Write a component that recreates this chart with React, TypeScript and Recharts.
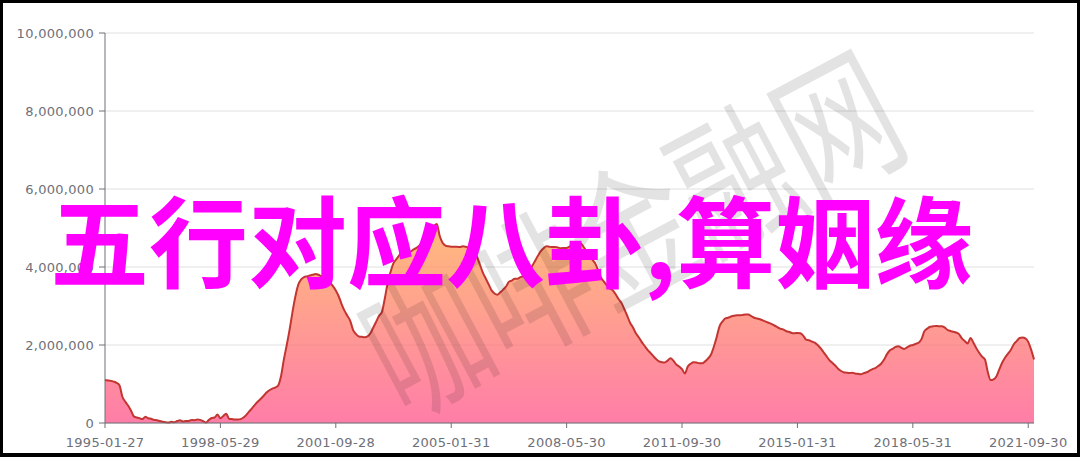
import React from "react"
import { AreaChart, Area, XAxis, YAxis, CartesianGrid } from "recharts"

// monthly values in millions, 1995-01 .. 2021-11
const VALUES: number[] = [
  1.10, 1.09, 1.08, 1.06, 1.03, 0.97, 0.68, 0.55, 0.45, 0.32, 0.17, 0.14,
  0.12, 0.10, 0.16, 0.12, 0.11, 0.08, 0.07, 0.05, 0.03, 0.02, 0.01, 0.03,
  0.02, 0.05, 0.07, 0.04, 0.05, 0.05, 0.08, 0.07, 0.09, 0.08, 0.05, 0.01,
  0.08, 0.13, 0.14, 0.22, 0.12, 0.18, 0.24, 0.11, 0.10, 0.09, 0.09, 0.10,
  0.14, 0.21, 0.30, 0.38, 0.47, 0.55, 0.62, 0.70, 0.78, 0.84, 0.88, 0.91,
  0.96, 1.20, 1.63, 2.00, 2.40, 2.85, 3.25, 3.55, 3.68, 3.74, 3.76, 3.78,
  3.80, 3.82, 3.80, 3.76, 3.72, 3.68, 3.60, 3.51, 3.40, 3.25, 3.05, 2.88,
  2.75, 2.62, 2.38, 2.28, 2.22, 2.21, 2.20, 2.22, 2.30, 2.45, 2.60, 2.75,
  2.85, 3.20, 3.60, 3.88, 4.10, 4.20, 4.30, 4.40, 4.45, 4.38, 4.40, 4.45,
  4.49, 4.55, 4.65, 4.75, 4.88, 4.96, 5.05, 5.10, 4.80, 4.62, 4.55, 4.53,
  4.52, 4.52, 4.52, 4.51, 4.53, 4.52, 4.50, 4.49, 4.40, 4.25, 4.05, 3.85,
  3.70, 3.55, 3.40, 3.32, 3.29, 3.35, 3.42, 3.50, 3.62, 3.65, 3.70, 3.70,
  3.74, 3.76, 3.82, 3.92, 4.02, 4.15, 4.28, 4.40, 4.48, 4.53, 4.52, 4.51,
  4.51, 4.50, 4.48, 4.49, 4.49, 4.52, 4.58, 4.60, 4.62, 4.60, 4.50, 4.40,
  4.30, 4.18, 4.08, 3.90, 3.72, 3.62, 3.52, 3.45, 3.40, 3.30, 3.18, 3.08,
  2.92, 2.75, 2.57, 2.45, 2.30, 2.20, 2.08, 1.98, 1.88, 1.80, 1.72, 1.64,
  1.58, 1.56, 1.55, 1.60, 1.66, 1.60, 1.50, 1.45, 1.38, 1.27, 1.45, 1.52,
  1.56, 1.55, 1.53, 1.53, 1.58, 1.65, 1.75, 1.95, 2.20, 2.48, 2.60, 2.68,
  2.70, 2.73, 2.75, 2.76, 2.76, 2.77, 2.78, 2.78, 2.74, 2.70, 2.68, 2.66,
  2.63, 2.60, 2.57, 2.54, 2.50, 2.46, 2.42, 2.40, 2.36, 2.34, 2.31, 2.30,
  2.31, 2.30, 2.24, 2.14, 2.12, 2.09, 2.06, 2.00, 1.92, 1.82, 1.72, 1.62,
  1.55, 1.48, 1.40, 1.34, 1.30, 1.29, 1.28, 1.29, 1.27, 1.26, 1.25, 1.28,
  1.30, 1.34, 1.38, 1.41, 1.46, 1.52, 1.62, 1.76, 1.86, 1.90, 1.95, 1.97,
  1.93, 1.90, 1.94, 1.98, 2.00, 2.03, 2.06, 2.15, 2.35, 2.42, 2.47, 2.48,
  2.49, 2.48, 2.48, 2.45, 2.39, 2.36, 2.34, 2.32, 2.28, 2.17, 2.10, 2.04,
  2.18, 2.06, 1.92, 1.80, 1.70, 1.63, 1.30, 1.10, 1.12, 1.20, 1.38, 1.55,
  1.68, 1.78, 1.88, 2.02, 2.10, 2.18, 2.19, 2.17, 2.08, 1.88, 1.63,
]

const TICK_LABELS = [
  "1995-01-27", "1998-05-29", "2001-09-28", "2005-01-31", "2008-05-30",
  "2011-09-30", "2015-01-31", "2018-05-31", "2021-09-30",
]
const TICK_MONTHS = TICK_LABELS.map((l) => l.slice(0, 7))
const Y_TICKS = [0, 2000000, 4000000, 6000000, 8000000, 10000000]

const HEADLINE = "五行对应八卦,算姻缘"
const WATERMARK = "咖啡金融网"

// one category per month, starting 1995-01
const CATEGORIES = VALUES.map((_, i) => {
  const y = 1995 + Math.floor(i / 12)
  const m = (i % 12) + 1
  return `${y}-${String(m).padStart(2, "0")}`
})

const data = VALUES.map((v, i) => ({ date: CATEGORIES[i], value: v * 1000000 }))

const fmtNum = (v: number) => String(v).replace(/\B(?=(\d{3})+(?!\d))/g, ",")
const fmtDate = (v: string) => TICK_LABELS.find((l) => l.startsWith(v)) ?? v

const tickStyle = { fill: "#6E7079", fontSize: 13, fontFamily: "DejaVu Sans", letterSpacing: 0.3 }

export default function App() {
  return (
    <div style={{ position: "relative", width: 1080, height: 457, background: "#fff" }}>
      <style>{`body{margin:0}`}</style>
      <div style={{ position: "absolute", left: 0, top: 0 }}>
        <AreaChart width={1080} height={457} data={data} margin={{ top: 33, right: 46, bottom: 4, left: 0 }}>
          <defs>
            <linearGradient id="areaFill" x1="0" y1="0" x2="0" y2="1">
              <stop offset="0%" stopColor="rgb(255,158,68)" stopOpacity={0.7} />
              <stop offset="100%" stopColor="rgb(255,70,131)" stopOpacity={0.7} />
            </linearGradient>
          </defs>
          <CartesianGrid vertical={false} stroke="#E0E0E0" />
          <XAxis
            dataKey="date"
            ticks={TICK_MONTHS}
            interval={0}
            tickFormatter={fmtDate}
            tick={tickStyle}
            tickSize={5}
            tickMargin={10}
            height={30}
            stroke="#6E7079"
          />
          <YAxis
            domain={[0, 10000000]}
            ticks={Y_TICKS}
            tickFormatter={fmtNum}
            tick={tickStyle}
            tickSize={6}
            tickMargin={5}
            width={105}
            stroke="#6E7079"
          />
          <Area
            type="monotone"
            dataKey="value"
            stroke="#C23531"
            strokeWidth={2}
            fill="url(#areaFill)"
            fillOpacity={1}
            dot={false}
            activeDot={false}
            isAnimationActive={false}
          />
        </AreaChart>
      </div>
      <svg width={1080} height={457} style={{ position: "absolute", left: 0, top: 0, pointerEvents: "none" }}>
        <text
          x={0}
          y={0}
          transform="translate(628,226) rotate(-28) scale(1,1.3)"
          textAnchor="middle"
          dominantBaseline="central"
          fontFamily="Noto Sans CJK SC"
          fontSize={116}
          fill="rgba(0,0,0,0.11)"
        >
          {WATERMARK}
        </text>
        <text x={50} y={280} fontFamily="Noto Sans CJK SC" fontWeight={700} fontSize={99} fill="#FF00FF">
          {HEADLINE}
        </text>
      </svg>
      <div
        style={{
          position: "absolute",
          inset: 0,
          borderTop: "3px solid #000",
          borderLeft: "3px solid #000",
          borderRight: "3px solid #000",
          borderBottom: "4px solid #000",
          pointerEvents: "none",
        }}
      />
    </div>
  )
}
